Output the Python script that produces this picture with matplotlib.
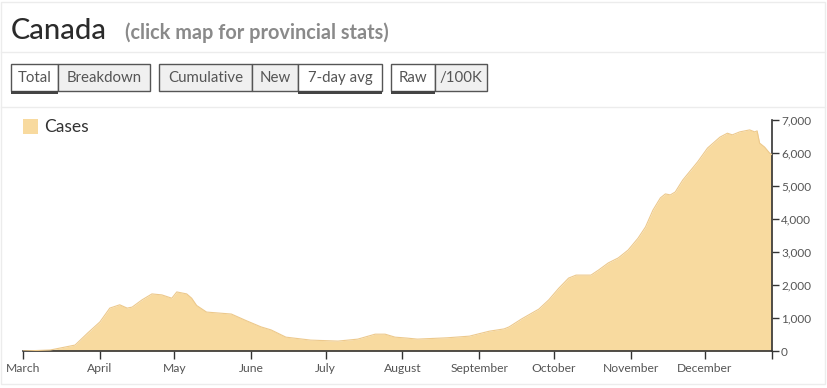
import matplotlib
matplotlib.use("Agg")
import matplotlib.pyplot as plt
import pandas as pd
from matplotlib.patches import Rectangle

plt.rcParams['font.family'] = ['Lato', 'DejaVu Sans']

# 7-day average of new cases
dates = ["2020-03-01", "2020-03-12", "2020-03-22", "2020-03-27", "2020-04-01",
         "2020-04-05", "2020-04-09", "2020-04-12", "2020-04-14", "2020-04-18",
         "2020-04-22", "2020-04-26", "2020-04-30", "2020-05-02", "2020-05-06",
         "2020-05-08", "2020-05-10", "2020-05-14", "2020-05-24", "2020-05-30",
         "2020-06-05", "2020-06-09", "2020-06-15", "2020-06-25", "2020-07-06",
         "2020-07-14", "2020-07-21", "2020-07-25", "2020-07-29", "2020-08-03",
         "2020-08-07", "2020-08-19", "2020-08-28", "2020-09-05", "2020-09-11",
         "2020-09-13", "2020-09-18", "2020-09-25", "2020-09-29", "2020-10-03",
         "2020-10-07", "2020-10-10", "2020-10-16", "2020-10-19", "2020-10-23",
         "2020-10-27", "2020-10-31", "2020-11-04", "2020-11-07", "2020-11-10",
         "2020-11-13", "2020-11-15", "2020-11-17", "2020-11-19", "2020-11-22",
         "2020-11-28", "2020-12-02", "2020-12-07", "2020-12-10", "2020-12-12",
         "2020-12-15", "2020-12-19", "2020-12-21", "2020-12-22", "2020-12-23",
         "2020-12-25", "2020-12-27", "2020-12-28"]
cases = [0, 30, 180, 540, 880,
         1300, 1400, 1300, 1330, 1550,
         1730, 1700, 1600, 1790, 1730,
         1600, 1380, 1180, 1120, 920,
         730, 640, 420, 330, 300,
         360, 510, 510, 420, 390,
         360, 400, 450, 600, 670,
         730, 970, 1270, 1550, 1900,
         2210, 2300, 2300, 2450, 2670,
         2820, 3060, 3420, 3760, 4270,
         4640, 4760, 4730, 4820, 5180,
         5730, 6150, 6480, 6600, 6550,
         6640, 6700, 6640, 6670, 6300,
         6180, 6000, 5950]

month_starts = ["2020-03-01", "2020-04-01", "2020-05-01", "2020-06-01", "2020-07-01",
                "2020-08-01", "2020-09-01", "2020-10-01", "2020-11-01", "2020-12-01"]
month_labels = ["March", "April", "May", "June", "July",
                "August", "September", "October", "November", "December"]
y_ticks = [0, 1000, 2000, 3000, 4000, 5000, 6000, 7000]

W, H = 827, 388
fig = plt.figure(figsize=(W / 100, H / 100), dpi=100)
fig.patch.set_facecolor('white')


def fx(px):
    return px / W


def fy(py):
    return 1 - py / H


# background panel lines
bg = fig.add_axes([0, 0, 1, 1])
bg.set_xlim(0, W)
bg.set_ylim(H, 0)
bg.axis('off')
bg.add_patch(Rectangle((1, 2), W - 3, 382, facecolor='none', edgecolor='#ececec', lw=1))
for yy in (52, 107):
    bg.plot([1, W - 2], [yy, yy], color='#ececec', lw=1)

# chart axes
x0, x1, ybase, ytop = 23, 772, 351, 120
ax = fig.add_axes([fx(x0), fy(ybase), fx(x1 - x0), (ybase - ytop) / H])
d = pd.to_datetime(dates)
ax.fill_between(d, cases, 0, color='#F8DA9F', lw=0, zorder=2)
ax.plot(d, cases, color='#EDC98C', lw=0.8, zorder=3)
ax.set_xlim(pd.Timestamp("2020-03-01"), pd.Timestamp("2020-12-28"))
ax.set_ylim(0, 7000)
ax.set_facecolor('none')
for s in ('left', 'top'):
    ax.spines[s].set_visible(False)
for s in ('right', 'bottom'):
    ax.spines[s].set_color('#333333')
    ax.spines[s].set_linewidth(1.2)
ax.yaxis.tick_right()
ax.set_yticks(y_ticks)
ax.set_yticklabels([f"{v:,}" for v in y_ticks])
xt = list(pd.to_datetime(month_starts)) + [pd.Timestamp("2020-12-28")]
ax.set_xticks(xt)
ax.set_xticklabels(month_labels + [""])
ax.tick_params(axis='y', direction='out', length=5, width=1, color='#333333',
               labelsize=8.5, labelcolor='#555555', pad=1.5)
ax.tick_params(axis='x', direction='out', length=6, width=1, color='#333333',
               labelsize=8.7, labelcolor='#555555', pad=3)

# overlay for header, buttons and legend
ov = fig.add_axes([0, 0, 1, 1])
ov.set_xlim(0, W)
ov.set_ylim(H, 0)
ov.axis('off')
ov.patch.set_alpha(0)

ov.text(11, 31, "Canada", fontsize=21, color='#2b2b2b', ha='left', va='center',
        fontweight='medium')
ov.text(125, 33, "(click map for provincial stats)", fontsize=14.3, color='#8a8a8a',
        ha='left', va='center', fontweight='bold')

buttons = [
    ("Total", 11, 58, True), ("Breakdown", 58, 150, False),
    ("Cumulative", 159, 252, False), ("New", 252, 298, False), ("7-day avg", 298, 382, True),
    ("Raw", 391, 435, True), ("/100K", 435, 487, False),
]
for label, bx0, bx1, active in buttons:
    ov.add_patch(Rectangle((bx0, 64), bx1 - bx0, 27,
                           facecolor='white' if active else '#f0f0f0',
                           edgecolor='#555555', lw=1))
    if active:
        ov.add_patch(Rectangle((bx0, 91), bx1 - bx0, 3, facecolor='#444444', lw=0))
    ov.text((bx0 + bx1) / 2, 78, label, fontsize=10.8, color='#555555',
            ha='center', va='center')

ov.add_patch(Rectangle((23, 119), 15, 15, facecolor='#F8DA9F', edgecolor='none'))
ov.text(44, 127, "Cases", fontsize=12.5, color='#333333', ha='left', va='center')

fig.savefig("out.png", dpi=100, facecolor='white')
